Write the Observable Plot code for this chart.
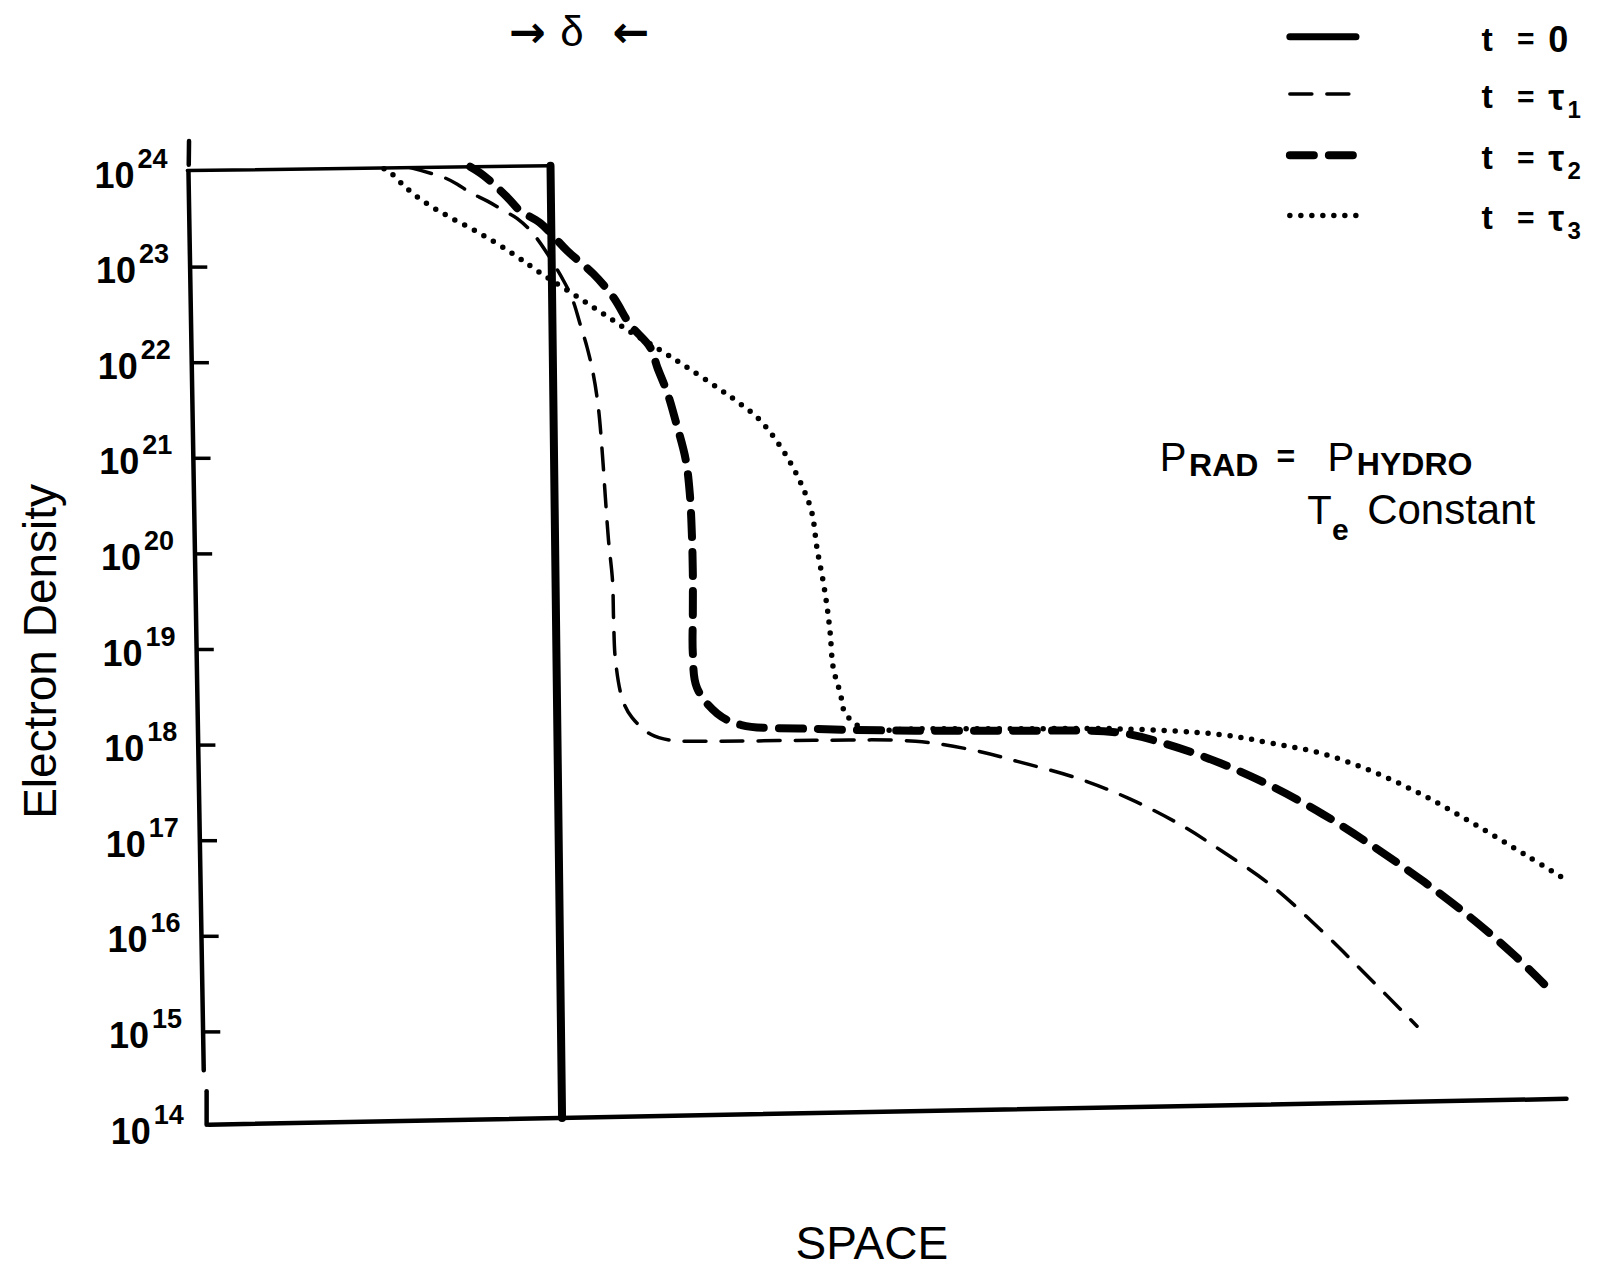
<!DOCTYPE html>
<html><head><meta charset="utf-8">
<script src="https://cdn.jsdelivr.net/npm/d3@7"></script>
<script src="https://cdn.jsdelivr.net/npm/@observablehq/plot@0.6"></script>
<style>body{margin:0;background:#fff}svg{display:block}</style>
</head><body><div id="chart"></div>
<script>
// ---------------- DATA (space: arbitrary units 0–100; density: log10 of electron density) ----------------
const t0Space = [-0.3, 26.11, 26.95];
const t0LogDensity = [24.01, 24.06, 14.1];

const tau1Space = [15.9, 18.31, 19.30, 20.27, 21.52, 22.97, 23.67, 24.85, 27.05, 27.74, 28.25, 28.77, 29.22, 29.59, 29.88, 30.10, 30.33, 30.62, 30.70, 30.84, 31.36, 32.03, 33.43, 34.91, 37.87, 45.27, 52.66, 57.10, 60.06, 64.50, 68.20, 71.89, 74.85, 78.55, 82.25, 85.21, 89.13];
const tau1LogDensity = [24.04, 23.94, 23.87, 23.78, 23.69, 23.57, 23.51, 23.35, 22.86, 22.65, 22.41, 22.16, 21.88, 21.53, 21.05, 20.59, 20.14, 19.72, 19.30, 18.88, 18.47, 18.29, 18.11, 18.05, 18.04, 18.05, 18.04, 17.94, 17.83, 17.65, 17.44, 17.17, 16.90, 16.53, 16.05, 15.63, 15.06];

const tau2Space = [20.27, 21.23, 22.97, 23.89, 25.37, 27.33, 29.22, 30.70, 31.88, 33.36, 33.88, 34.62, 35.21, 35.95, 36.24, 36.39, 36.46, 36.46, 36.46, 36.76, 38.24, 40.0, 45.27, 52.66, 60.06, 67.46, 71.15, 74.85, 78.55, 82.25, 85.95, 89.64, 93.34, 96.30, 98.37];
const tau2LogDensity = [24.05, 23.96, 23.73, 23.59, 23.46, 23.17, 22.93, 22.68, 22.40, 22.16, 21.95, 21.68, 21.39, 20.98, 20.63, 20.21, 19.80, 19.37, 18.96, 18.60, 18.33, 18.21, 18.17, 18.15, 18.15, 18.13, 18.00, 17.81, 17.57, 17.28, 16.94, 16.57, 16.16, 15.79, 15.50];

const tau3Space = [14.0, 14.46, 15.68, 17.16, 18.82, 21.01, 23.37, 25.37, 28.48, 29.96, 31.73, 34.10, 36.06, 38.24, 39.72, 41.12, 42.31, 43.57, 44.53, 45.12, 45.49, 45.93, 46.23, 46.45, 46.67, 47.19, 47.56, 48.96, 52.66, 60.06, 67.46, 74.85, 78.55, 82.25, 85.95, 89.64, 93.34, 97.04, 99.63];
const tau3LogDensity = [24.03, 23.99, 23.82, 23.66, 23.52, 23.35, 23.14, 22.94, 22.65, 22.51, 22.34, 22.13, 21.95, 21.74, 21.59, 21.43, 21.23, 20.95, 20.67, 20.43, 20.06, 19.72, 19.44, 19.17, 18.81, 18.54, 18.33, 18.17, 18.17, 18.17, 18.17, 18.11, 18.02, 17.91, 17.72, 17.47, 17.17, 16.85, 16.62];

const tickExponents = [14, 15, 16, 17, 18, 19, 20, 21, 22, 23, 24];
const legendMain = ["0", "τ", "τ", "τ"];
const legendSub = ["", "1", "2", "3"];

// ---------------- LAYOUT / STYLE ----------------
const FONT = "Liberation Sans, Arial, DejaVu Sans, sans-serif";
const zip = (xs, ys) => xs.map((x, i) => ({x, y: ys[i]}));
const t0 = zip(t0Space, t0LogDensity);
const tau1 = zip(tau1Space, tau1LogDensity);
const tau2 = zip(tau2Space, tau2LogDensity);
const tau3 = zip(tau3Space, tau3LogDensity);

const AX_TOP = {x: -0.22, y: 24}, AX_BOT = {x: 0.89, y: 14.6};
const axisX = e => AX_TOP.x + (AX_TOP.y - e) * (AX_BOT.x - AX_TOP.x) / (AX_TOP.y - AX_BOT.y);

const axisLines = [
  {x1: AX_TOP.x, y1: AX_TOP.y, x2: AX_BOT.x, y2: AX_BOT.y},
  {x1: -0.2, y1: 24.07, x2: -0.18, y2: 24.32},
  {x1: 1.1, y1: 14.38, x2: 1.1, y2: 14.03},
  {x1: 1.26, y1: 14.03, x2: 100, y2: 14.30}
];
const tickSegs = tickExponents.filter(e => e > 14 && e < 24).map(e => ({x1: axisX(e), x2: axisX(e) + 1.25, y: e}));
const tickLabels = tickExponents.map(e => ({x: axisX(e), y: e, exp: String(e)}));

const styles = [
  {w: 7, dash: null},
  {w: 3.5, dash: "22 15"},
  {w: 8, dash: "24 15"},
  {w: 5.5, dash: "0 11"}
];
const legendRowY = [25.41, 24.81, 24.17, 23.54];
const legendItems = legendMain.map((m, i) => ({
  x1: 79.88, x2: 84.69, y: legendRowY[i], main: m, sub: legendSub[i], i
}));

const txt = (items, opts) => Plot.text(items, {x: "x", y: "y", text: "t", fontFamily: FONT, ...opts});

const chart = Plot.plot({
  width: 1598, height: 1268,
  x: {domain: [0, 100], range: [191, 1566], axis: null},
  y: {domain: [14, 24], range: [1127, 171], axis: null},
  style: {background: "white", color: "black", fontFamily: FONT},
  marks: [
    // axes
    Plot.link(axisLines, {x1: "x1", y1: "y1", x2: "x2", y2: "y2", stroke: "black", strokeWidth: 4.5, strokeLinecap: "round"}),
    Plot.link(tickSegs, {x1: "x1", x2: "x2", y1: "y", y2: "y", stroke: "black", strokeWidth: 3.5}),
    Plot.text(tickLabels, {x: "x", y: "y", text: () => "10", textAnchor: "end", lineAnchor: "bottom", dx: -54, dy: 16, fontSize: 36, fontWeight: "bold", fontFamily: FONT}),
    Plot.text(tickLabels, {x: "x", y: "y", text: "exp", textAnchor: "start", lineAnchor: "bottom", dx: -51, dy: -4, fontSize: 27, fontWeight: "bold", fontFamily: FONT}),
    // series
    Plot.line(t0.slice(0, 2), {x: "x", y: "y", stroke: "black", strokeWidth: 3.5}),
    Plot.line(t0.slice(1), {x: "x", y: "y", stroke: "black", strokeWidth: 8}),
    Plot.line(tau1, {x: "x", y: "y", curve: "catmull-rom", stroke: "black", strokeWidth: styles[1].w, strokeDasharray: styles[1].dash, strokeLinecap: "round"}),
    Plot.line(tau2, {x: "x", y: "y", curve: "catmull-rom", stroke: "black", strokeWidth: styles[2].w, strokeDasharray: styles[2].dash, strokeLinecap: "round"}),
    Plot.line(tau3, {x: "x", y: "y", curve: "catmull-rom", stroke: "black", strokeWidth: styles[3].w, strokeDasharray: styles[3].dash, strokeLinecap: "round"}),
    // legend
    ...legendItems.map(d => Plot.link([d], {x1: "x1", x2: "x2", y1: "y", y2: "y", stroke: "black", strokeWidth: styles[d.i].w, strokeDasharray: styles[d.i].dash, strokeLinecap: "round"})),
    Plot.text(legendItems, {x: () => 94.23, y: "y", text: () => "t", fontSize: 34, fontWeight: "bold", dy: 3, fontFamily: FONT}),
    Plot.text(legendItems, {x: () => 97.04, y: "y", text: () => "=", fontSize: 30, fontWeight: "bold", dy: 3, fontFamily: FONT}),
    Plot.text(legendItems, {x: () => 98.67, y: "y", text: "main", textAnchor: "start", fontSize: 36, fontWeight: "bold", dy: 4, fontFamily: FONT}),
    Plot.text(legendItems, {x: () => 100.07, y: "y", text: "sub", textAnchor: "start", fontSize: 24, fontWeight: "bold", dy: 16, fontFamily: FONT}),
    // annotations
    txt([{x: 24.41, y: 25.45, t: "→"}, {x: 31.95, y: 25.45, t: "←"}], {fontSize: 44, fontWeight: "bold", fontFamily: "DejaVu Sans, sans-serif"}),
    txt([{x: 27.66, y: 25.45, t: "δ"}], {fontSize: 42}),
    txt([{x: 70.41, y: 20.87, t: "P"}, {x: 82.62, y: 20.87, t: "P"}, {x: 81.14, y: 20.31, t: "T"}], {textAnchor: "start", lineAnchor: "bottom", fontSize: 40}),
    txt([{x: 72.55, y: 20.81, t: "RAD"}, {x: 84.75, y: 20.83, t: "HYDRO"}], {textAnchor: "start", lineAnchor: "bottom", fontSize: 32, fontWeight: "bold"}),
    txt([{x: 79.59, y: 21.02, t: "="}], {fontSize: 32, fontWeight: "bold"}),
    txt([{x: 82.95, y: 20.15, t: "e"}], {textAnchor: "start", lineAnchor: "bottom", fontSize: 30, fontWeight: "bold"}),
    txt([{x: 85.5, y: 20.31, t: "Constant"}], {textAnchor: "start", lineAnchor: "bottom", fontSize: 42}),
    txt([{x: -10.95, y: 18.98, t: "Electron Density"}], {rotate: -90, fontSize: 46}),
    txt([{x: 49.48, y: 12.62, t: "SPACE"}], {lineAnchor: "bottom", fontSize: 46})
  ]
});
document.getElementById("chart").append(chart);
</script>
</body></html>
